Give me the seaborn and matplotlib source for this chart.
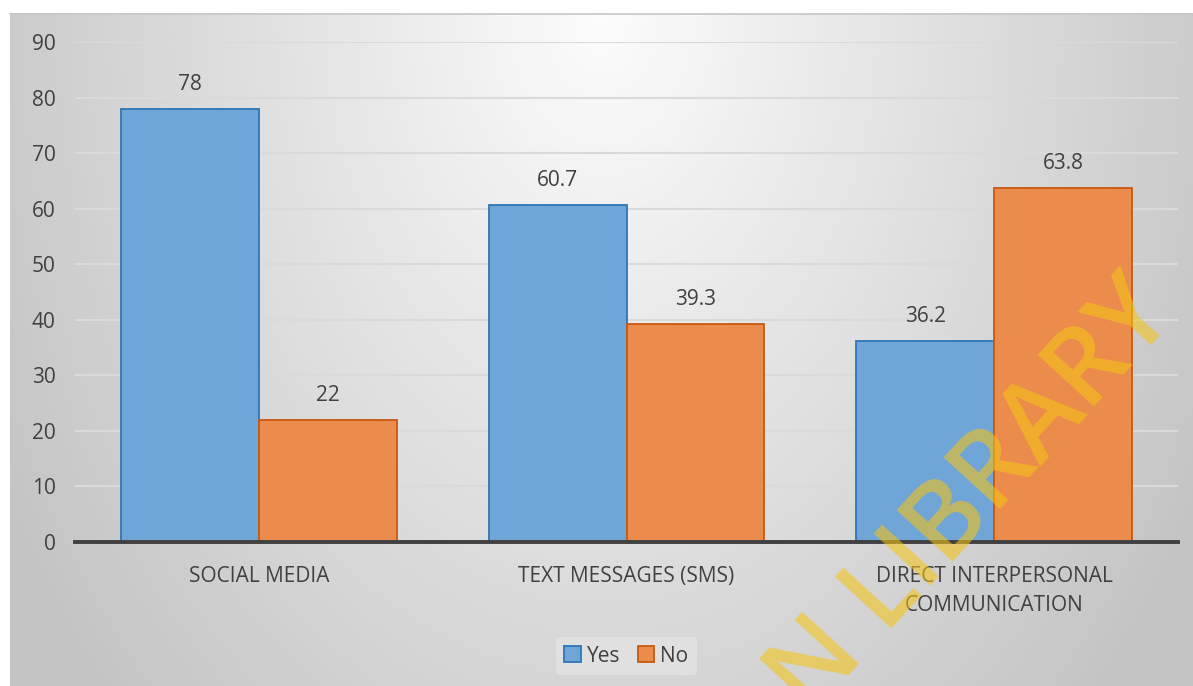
import numpy as np
import pandas as pd
import matplotlib
matplotlib.use("Agg")
import matplotlib.pyplot as plt
from matplotlib.lines import Line2D
import seaborn as sns

categories = ["SOCIAL MEDIA", "TEXT MESSAGES (SMS)", "DIRECT INTERPERSONAL\nCOMMUNICATION"]
yes_values = [78, 60.7, 36.2]
no_values = [22, 39.3, 63.8]
value_labels_yes = ["78", "60.7", "36.2"]
value_labels_no = ["22", "39.3", "63.8"]
series = ["Yes", "No"]
yticks = [0, 10, 20, 30, 40, 50, 60, 70, 80, 90]

df = pd.DataFrame({
    "category": categories * 2,
    "value": yes_values + no_values,
    "response": ["Yes"] * 3 + ["No"] * 3,
})

sns.set_theme(style="white")
plt.rcParams["font.family"] = ["Open Sans", "DejaVu Sans"]

W, H = 1193, 686
fig = plt.figure(figsize=(W / 100, H / 100), dpi=100)
fig.patch.set_facecolor("white")

# background gradient panel (light at top centre, darker towards the edges)
bg = fig.add_axes([10 / W, 0, (W - 10) / W, (H - 13) / H], zorder=0)
ny, nx = 300, 500
yy, xx = np.mgrid[0:ny, 0:nx]
xn = xx / (nx - 1)
yn = yy / (ny - 1)
r = np.sqrt(((xn - 0.5) / 0.5) ** 2 + (0.79 * yn) ** 2)
val = np.clip(0.99 - 0.19 * r, 0.765, 0.99)
img = np.dstack([val, val, val])
bg.imshow(img, aspect="auto", extent=[0, 1, 0, 1], origin="upper")
bg.set_axis_off()
fig.add_artist(Line2D([10 / W, 1], [1 - 13.5 / H, 1 - 13.5 / H], color="#C8C8C8", lw=1.2, zorder=0.5))

ax = fig.add_axes([75 / W, 1 - 542 / H, (1178 - 75) / W, (542 - 42) / H], zorder=1)
ax.set_facecolor("none")

blue = "#6FA5D7"
orange = "#EB8C4C"
edges = ["#2E75B6", "#C55A11"]

sns.barplot(data=df, x="category", y="value", hue="response", hue_order=series,
            palette=[blue, orange], width=0.75, saturation=1, ax=ax,
            linewidth=1.3, legend=True)
for cont, ec in zip(ax.containers, edges):
    for p in cont:
        p.set_edgecolor(ec)
        p.set_zorder(3)

for cont, labs in zip(ax.containers, [value_labels_yes, value_labels_no]):
    ax.bar_label(cont, labels=labs, padding=10, fontsize=15, color="#404040")

ax.set_ylim(0, 90)
ax.set_xlim(-0.5, 2.5)
ax.set_yticks(yticks)
ax.yaxis.grid(True, color="#DADADA", linewidth=1.5, zorder=0)
ax.set_axisbelow(True)
for s in ["top", "right", "left"]:
    ax.spines[s].set_visible(False)
ax.spines["bottom"].set_color("#404040")
ax.spines["bottom"].set_linewidth(2.8)
ax.spines["bottom"].set_zorder(4)
ax.tick_params(axis="both", length=0, labelsize=15, labelcolor="#404040")
ax.tick_params(axis="y", pad=14)
ax.tick_params(axis="x", pad=17)
ax.set_xlabel("")
ax.set_ylabel("")
for t in ax.get_yticklabels():
    t.set_horizontalalignment("right")
for t in ax.get_xticklabels():
    t.set_linespacing(1.55)

handles, labels = ax.get_legend_handles_labels()
for h, ec in zip(handles, edges):
    h.set_edgecolor(ec)
leg = ax.legend(handles, labels, loc="center", bbox_to_anchor=(0.5, (H - 656 - (H - 542)) / (542 - 42)),
                ncol=2, frameon=True, fontsize=15, handlelength=0.8, handleheight=0.8,
                handletextpad=0.3, columnspacing=0.8, borderpad=0.4)
leg.get_frame().set_facecolor("#E0E0E0")
leg.get_frame().set_edgecolor("none")
leg.get_frame().set_alpha(1)
for t in leg.get_texts():
    t.set_color("#404040")

# watermark (partly outside the figure, as in the reference)
fig.text(1177 / W, 1 - 316 / H, "AN LIBRARY", fontsize=77, color="#F5C414", alpha=0.58,
         rotation=47.5, rotation_mode="anchor", ha="right", va="baseline", zorder=5,
         fontweight="semibold", family=["Open Sans", "DejaVu Sans"])

fig.savefig("out.png", dpi=100)
